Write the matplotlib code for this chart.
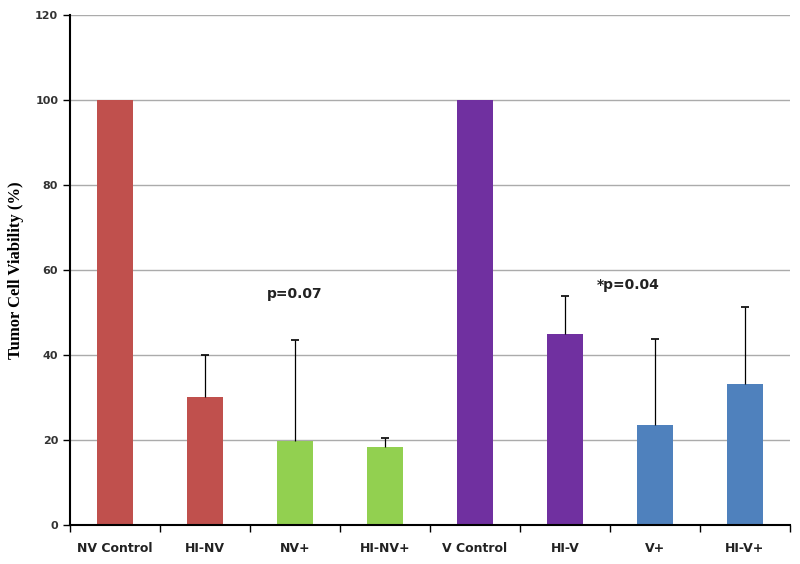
import matplotlib
matplotlib.use("Agg")
import matplotlib.pyplot as plt
import numpy as np

groups = ["NV Control", "HI-NV", "NV+", "HI-NV+", "V Control", "HI-V", "V+", "HI-V+"]
viability = [100, 30.2, 19.8, 18.3, 100, 45.0, 23.5, 33.2]
err_upper = [0, 9.9, 23.8, 2.1, 0, 9.0, 20.3, 18.1]
bar_colors = ["#C0504D", "#C0504D", "#92D050", "#92D050",
              "#7030A0", "#7030A0", "#4F81BD", "#4F81BD"]
p_labels = ["p=0.07", "*p=0.04"]
p_pos = [(2.0, 54.5), (5.7, 56.5)]

fig = plt.figure(figsize=(8, 5.64), dpi=100)
ax = fig.add_axes([0.0875, 0.069, 0.9, 0.904])

x = np.arange(len(groups))
vals = np.array(viability)
errs = np.array(err_upper)
ax.bar(x, vals, width=0.41, color=bar_colors, zorder=2)

# upper-only error bars with a cap at the top
has_err = errs > 0
ax.vlines(x[has_err], vals[has_err], vals[has_err] + errs[has_err],
          color="black", linewidth=0.9, zorder=3)
ax.plot(x[has_err], vals[has_err] + errs[has_err], linestyle="none",
        marker="_", markersize=6, markeredgewidth=1.2, color="black", zorder=3)

ax.set_xlim(-0.5, len(groups) - 0.5)
ax.set_ylim(0, 120)
ax.set_yticks(np.arange(0, 121, 20))
ax.yaxis.grid(True, color="#ABABAB", linewidth=1.0, zorder=0)
ax.set_axisbelow(True)

ax.set_xticks(x)
ax.set_xticklabels(groups, fontsize=9, fontweight="bold", color="#222222")
ax.set_xticks(np.arange(-0.5, len(groups)), minor=True)
ax.tick_params(axis="x", which="major", length=0, pad=12)
ax.tick_params(axis="x", which="minor", length=5, width=1, direction="out")
ax.tick_params(axis="y", length=5, width=1, labelsize=8, labelcolor="#333333")
for lab in ax.get_yticklabels():
    lab.set_fontweight("bold")

for side in ["top", "right"]:
    ax.spines[side].set_visible(False)
ax.spines["left"].set_linewidth(1.5)
ax.spines["bottom"].set_linewidth(1.5)

ax.set_ylabel("Tumor Cell Viability (%)", fontsize=12, fontweight="bold",
              family="Liberation Serif", labelpad=8)

for txt, (px, py) in zip(p_labels, p_pos):
    ax.text(px, py, txt, ha="center", va="center", fontsize=10,
            fontweight="bold", color="#222222")

fig.savefig("out.png", dpi=100)
